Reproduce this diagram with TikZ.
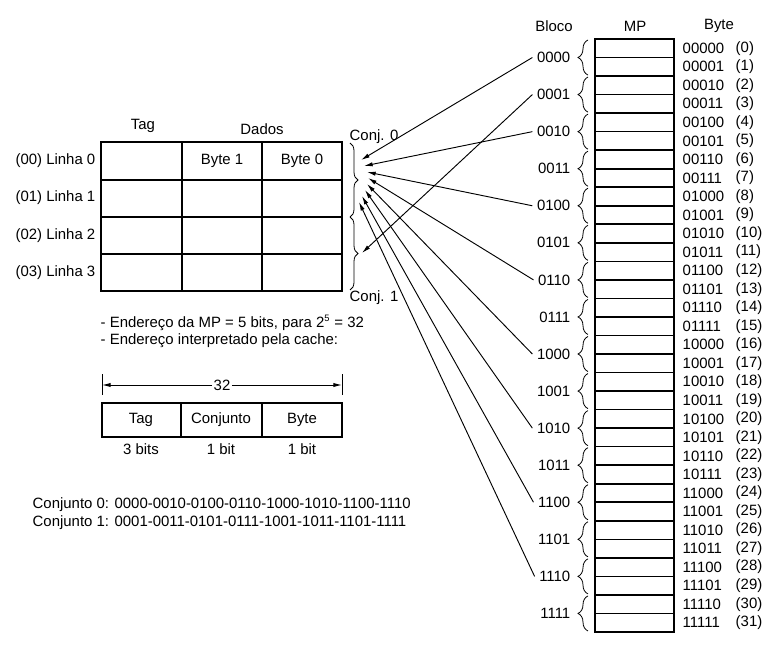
\documentclass[tikz,border=0pt]{standalone}
\usepackage{fontspec}
\setmainfont{Liberation Sans}
\usetikzlibrary{arrows.meta,decorations.pathreplacing}
\tikzset{
  chave/.style={decorate,decoration={brace,amplitude=6pt},line width=0.6pt},
  chavemp/.style={decorate,decoration={brace,amplitude=7.5pt},line width=0.6pt},
  seta/.style={-{Latex[length=6.5pt,width=3.2pt]},line width=0.7pt},
  celula/.style={line width=1.2pt},
}
\begin{document}
\begin{tikzpicture}[x=0.75pt,y=-0.75pt,font=\fontsize{11.2}{13}\selectfont]
\useasboundingbox (0,0) rectangle (777,648);

% cache
\draw[celula] (101,142) rectangle (342,291);
\draw[celula] (101,180)--(342,180);
\draw[celula] (101,217)--(342,217);
\draw[celula] (101,254)--(342,254);
\draw[celula] (182,142)--(182,291);
\draw[celula] (262,142)--(262,291);

\node (tag) at (143,126) {Tag};
\node (dados) at (262,129) {Dados};
\node (byte1) at (222,161) {Byte 1};
\node (byte0) at (302,161) {Byte 0};

\node [left] (linha0) at (100,161) {(00) Linha 0};
\node [left] (linha1) at (100,198) {(01) Linha 1};
\node [left] (linha2) at (100,236) {(02) Linha 2};
\node [left] (linha3) at (100,273) {(03) Linha 3};

\draw[chave] (350,143)--(350,217);
\draw[chave] (350,217)--(350,290);
\node [right] (conjA) at (345,137) {Conj. 0};
\node [right] (conjB) at (345,298) {Conj. 1};

% pontas das setas
\coordinate (a0) at (361,160);
\coordinate (a2) at (364,166);
\coordinate (a4) at (367,172);
\coordinate (a6) at (368,178);
\coordinate (a8) at (367,184);
\coordinate (a10) at (365,190);
\coordinate (a12) at (362,196);
\coordinate (a14) at (359,202);
\coordinate (a1) at (362,253);

% memoria principal
\node (bloco) at (554,26) {Bloco};
\node (mp) at (635,26) {MP};
\node (byte) at (719,26) {Byte};

\foreach \b [count=\i from 0] in {00000,00001,00010,00011,00100,00101,00110,00111,01000,01001,01010,01011,01100,01101,01110,01111,10000,10001,10010,10011,10100,10101,10110,10111,11000,11001,11010,11011,11100,11101,11110,11111} {
  \draw[celula] (595,{39+\i*18.53}) rectangle (674,{39+(\i+1)*18.53});
  \node [right] (bin\i) at (678,{48.27+\i*18.53}) {\b};
  \node [right] (dec\i) at (731,{48.27+\i*18.53}) {(\i)};
}

\foreach \k in {0,...,15}
  \draw[chavemp] (588,{39+(2*\k+2)*18.53-1})--(588,{39+2*\k*18.53+1});

\node [left] (m0000) at (575,57.53) {0000};
\node [left] (m0001) at (575,94.59) {0001};
\node [left] (m0010) at (575,131.65) {0010};
\node [left] (m0011) at (575,168.71) {0011};
\node [left] (m0100) at (575,205.77) {0100};
\node [left] (m0101) at (575,242.83) {0101};
\node [left] (m0110) at (575,279.89) {0110};
\node [left] (m0111) at (575,316.95) {0111};
\node [left] (m1000) at (575,354.01) {1000};
\node [left] (m1001) at (575,391.07) {1001};
\node [left] (m1010) at (575,428.13) {1010};
\node [left] (m1011) at (575,465.19) {1011};
\node [left] (m1100) at (575,502.25) {1100};
\node [left] (m1101) at (575,539.31) {1101};
\node [left] (m1110) at (575,576.37) {1110};
\node [left] (m1111) at (575,613.43) {1111};

\draw[seta] (m0000.west)--(a0);
\draw[seta] (m0010.west)--(a2);
\draw[seta] (m0100.west)--(a4);
\draw[seta] (m0110.west)--(a6);
\draw[seta] (m1000.west)--(a8);
\draw[seta] (m1010.west)--(a10);
\draw[seta] (m1100.west)--(a12);
\draw[seta] (m1110.west)--(a14);
\draw[seta] (m0001.west)--(a1);

% endereco
\node [right] (end1) at (96,323) {- Endereço da MP = 5 bits, para 2\textsuperscript{\scriptsize 5} = 32};
\node [right] (end2) at (96,341) {- Endereço interpretado pela cache:};

\coordinate (d0) at (102,385);
\coordinate (d1) at (342,385);
\draw (102,374)--(102,395);
\draw (342,374)--(342,395);
\node [fill=white,inner sep=1pt] (n32) at (222,385) {32};
\draw[seta] (n32.west)--(d0);
\draw[seta] (n32.east)--(d1);

\draw[celula] (102,403) rectangle (342,437);
\draw[celula] (181,403)--(181,437);
\draw[celula] (262,403)--(262,437);
\node (ftag) at (141,420) {Tag};
\node (fconj) at (221,420) {Conjunto};
\node (fbyte) at (302,420) {Byte};
\node (btag) at (141,449) {3 bits};
\node (bconj) at (221,449) {1 bit};
\node (bbyte) at (302,449) {1 bit};

% conjuntos
\node [right] (lista0) at (28,505) {Conjunto 0: 0000-0010-0100-0110-1000-1010-1100-1110};
\node [right] (lista1) at (28,523) {Conjunto 1: 0001-0011-0101-0111-1001-1011-1101-1111};

\end{tikzpicture}
\end{document}
